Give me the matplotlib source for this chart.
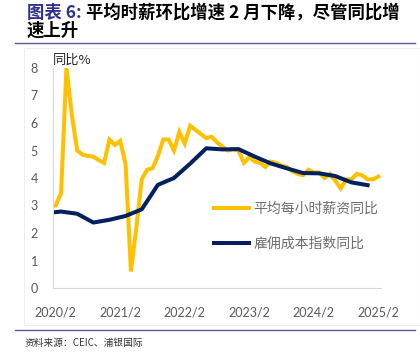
import matplotlib.pyplot as plt
from matplotlib.patches import Rectangle

plt.rcParams['font.family'] = ['Noto Sans CJK SC', 'DejaVu Sans']

# monthly, starting 2020/1 (index -1), 2020/2 is index 0
ahe_months = list(range(-1, 61))
ahe_yoy = [3.0,
           3.0, 3.45, 8.0, 6.3, 5.0, 4.85, 4.8, 4.78, 4.65, 4.55, 5.4,
           5.2, 5.35, 4.5, 0.6, 2.2, 3.95, 4.3, 4.35, 4.8, 5.4, 5.4,
           5.0, 5.67, 5.25, 5.9, 5.75, 5.6, 5.45, 5.5, 5.3, 5.14, 5.0,
           5.05, 5.0, 4.55, 4.75, 4.6, 4.55, 4.4, 4.6, 4.55, 4.45, 4.4,
           4.25, 4.15, 4.1, 4.3, 4.2, 4.2, 4.0, 4.15, 3.9, 3.62, 3.95,
           3.95, 4.15, 4.1, 3.95, 3.95, 4.05]

# quarterly, plotted at quarter-end month
eci_months = [-2, 1, 4, 7, 10, 13, 16, 19, 22, 25, 28, 31, 34, 37, 40, 43,
              46, 49, 52, 55, 58]
eci_yoy = [2.72, 2.78, 2.7, 2.38, 2.48, 2.62, 2.86, 3.75, 4.0, 4.52, 5.08,
           5.04, 5.05, 4.78, 4.53, 4.35, 4.18, 4.17, 4.07, 3.84, 3.74]

tick_pos = [0, 12, 24, 36, 48, 60]
tick_labels = ['2020/2', '2021/2', '2022/2', '2023/2', '2024/2', '2025/2']

label_ahe = '平均每小时薪资同比'
label_eci = '雇佣成本指数同比'

fig = plt.figure(figsize=(4.2, 3.55), dpi=100)

# faint frame round the chart picture
fig.patches.append(Rectangle((24 / 420, 1 - 325 / 355), 396 / 420, 277 / 355,
                             transform=fig.transFigure, fill=False,
                             edgecolor='#EEEEEE', linewidth=0.8))

ax = fig.add_axes([53 / 420, 1 - 288 / 355, 328 / 420, 220 / 355])
ax.plot(ahe_months, ahe_yoy, color='#FFC000', linewidth=2.9,
        label=label_ahe, solid_joinstyle='miter')
ax.plot(eci_months, eci_yoy, color='#002060', linewidth=2.9,
        label=label_eci)
ax.set_xlim(-0.5, 60.5)
ax.set_ylim(0, 8)
ax.set_xticks(tick_pos)
ax.set_xticklabels(tick_labels)
ax.set_yticks(range(0, 9))
ax.tick_params(length=0, labelcolor='#595959', labelsize=9)
ax.tick_params(axis='x', pad=13)
ax.tick_params(axis='y', pad=11)
for lab in ax.get_xticklabels() + ax.get_yticklabels():
    lab.set_family(['Lato', 'DejaVu Sans'])
for s in ['top', 'right']:
    ax.spines[s].set_visible(False)
for s in ['left', 'bottom']:
    ax.spines[s].set_color('#D9D9D9')
    ax.spines[s].set_linewidth(0.8)

ax.text(0.0, 1.005, '同比%', transform=ax.transAxes, fontsize=9.5,
        color='#262626', ha='left', va='bottom')

leg = ax.legend(loc='upper left', bbox_to_anchor=(214 / 420, 1 - 202 / 355),
                bbox_transform=fig.transFigure, frameon=False, fontsize=10,
                handlelength=2.5, handletextpad=0.35, labelspacing=1.5,
                borderpad=0, borderaxespad=0)
for t in leg.get_texts():
    t.set_color('#6E6E6E')

# title
t1 = fig.text(27 / 420, 1 - 18 / 355, '图表 6:', fontsize=12.5,
              fontweight='bold', color='#2E3192', ha='left', va='baseline')
fig.canvas.draw()
ax.annotate(' 平均时薪环比增速 2 月下降，尽管同比增', xy=(1, 0),
            xycoords=t1, fontsize=12.5, fontweight='bold', color='black',
            ha='left', va='bottom', annotation_clip=False)
fig.text(27 / 420, 1 - 36 / 355, '速上升', fontsize=12.5, fontweight='bold',
         color='black', ha='left', va='baseline')

# separators
fig.add_artist(plt.Line2D([15 / 420, 415 / 420], [1 - 43 / 355, 1 - 43 / 355],
                          color='#5B5A9E', linewidth=1.0))
fig.add_artist(plt.Line2D([15 / 420, 415 / 420], [1 - 330 / 355, 1 - 330 / 355],
                          color='#5B5A9E', linewidth=1.0))

fig.text(25 / 420, 1 - 343 / 355, '资料来源：CEIC、浦银国际', fontsize=7,
         color='#333333', ha='left', va='center')

fig.savefig('out.png', dpi=100)
